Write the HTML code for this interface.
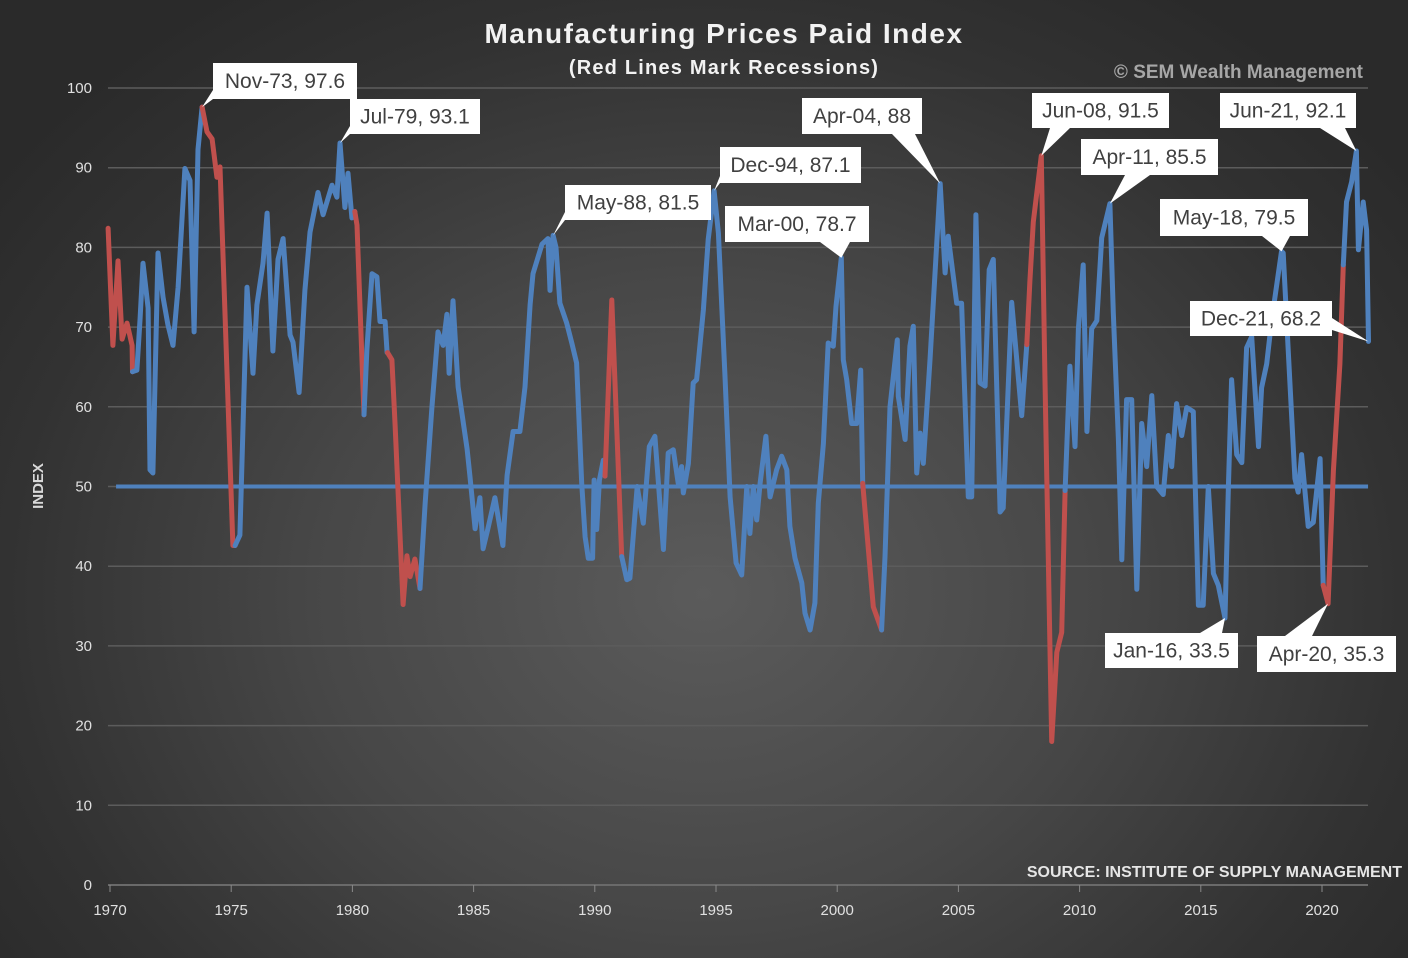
<!DOCTYPE html>
<html><head><meta charset="utf-8">
<style>
html,body{margin:0;padding:0;}
body{width:1408px;height:958px;overflow:hidden;background:radial-gradient(ellipse 62% 75% at 50% 62%,#5b5b5b 0%,#474747 45%,#323232 80%,#2a2a2a 100%);font-family:"Liberation Sans",sans-serif;}
svg{position:absolute;left:0;top:0;}
</style></head>
<body>
<svg id="chart" width="1408" height="958">
  <text x="724" y="43" text-anchor="middle" fill="#f2f2f2" font-size="28" font-weight="bold" letter-spacing="1.5">Manufacturing Prices Paid Index</text>
  <text x="724" y="74" text-anchor="middle" fill="#f2f2f2" font-size="20" font-weight="bold" letter-spacing="1.2">(Red Lines Mark Recessions)</text>
  <text x="1363" y="78" text-anchor="end" fill="#a6a6a6" font-size="19" font-weight="bold">© SEM Wealth Management</text>
  <text x="43" y="486" text-anchor="middle" fill="#d9d9d9" font-size="15" font-weight="bold" transform="rotate(-90 43 486)">INDEX</text>
  <text x="1402" y="877" text-anchor="end" fill="#e6e6e6" font-size="16" font-weight="bold">SOURCE:  INSTITUTE OF SUPPLY MANAGEMENT</text>
  <g id="grid"></g><g id="axes"></g><g id="series"></g><g id="notes"></g>
</svg>
<script>
const yTicks=[0,10,20,30,40,50,60,70,80,90,100];
const xTicks=[1970,1975,1980,1985,1990,1995,2000,2005,2010,2015,2020];
const recessions=[[1969.9,1970.92],[1973.8,1975.2],[1980.05,1980.5],[1981.45,1982.8],[1990.4,1991.15],[2001.05,2001.85],[2007.85,2009.45],[2020.05,2020.9]];
const dates=[1969.92,1970.12,1970.33,1970.5,1970.7,1970.91,1970.93,1971.11,1971.24,1971.36,1971.57,1971.65,1971.77,1971.98,1972.19,1972.39,1972.6,1972.81,1973.09,1973.3,1973.47,1973.63,1973.8,1974.0,1974.21,1974.41,1974.54,1975.07,1975.16,1975.36,1975.65,1975.9,1976.06,1976.31,1976.48,1976.72,1976.93,1977.14,1977.43,1977.55,1977.8,1978.04,1978.25,1978.58,1978.79,1979.16,1979.36,1979.49,1979.69,1979.82,1979.98,1980.1,1980.19,1980.48,1980.6,1980.81,1981.01,1981.14,1981.35,1981.43,1981.45,1981.63,1981.76,1982.09,1982.25,1982.38,1982.58,1982.79,1983.0,1983.28,1983.53,1983.74,1983.9,1983.99,1984.15,1984.36,1984.73,1984.85,1985.06,1985.26,1985.39,1985.59,1985.88,1986.21,1986.38,1986.63,1986.91,1987.12,1987.33,1987.45,1987.82,1988.07,1988.15,1988.28,1988.4,1988.56,1988.84,1989.05,1989.25,1989.46,1989.6,1989.73,1989.91,1989.97,1990.08,1990.19,1990.35,1990.42,1990.7,1991.11,1991.32,1991.45,1991.75,1992.0,1992.25,1992.48,1992.83,1993.03,1993.24,1993.44,1993.58,1993.65,1993.86,1994.06,1994.2,1994.48,1994.68,1994.92,1995.1,1995.37,1995.58,1995.83,1996.06,1996.27,1996.4,1996.54,1996.68,1996.82,1997.06,1997.23,1997.5,1997.71,1997.92,1998.05,1998.26,1998.54,1998.67,1998.88,1999.08,1999.22,1999.43,1999.63,1999.84,1999.95,2000.17,2000.25,2000.39,2000.6,2000.8,2000.97,2001.05,2001.49,2001.83,2001.97,2002.18,2002.48,2002.52,2002.8,2003.0,2003.14,2003.28,2003.42,2003.55,2003.83,2004.25,2004.45,2004.58,2004.93,2005.13,2005.41,2005.55,2005.72,2005.89,2006.1,2006.27,2006.44,2006.72,2006.85,2007.2,2007.61,2007.82,2007.95,2008.09,2008.42,2008.57,2008.85,2009.06,2009.26,2009.4,2009.6,2009.81,2009.95,2010.15,2010.3,2010.5,2010.71,2010.91,2011.25,2011.39,2011.6,2011.74,2011.94,2012.15,2012.36,2012.56,2012.77,2012.98,2013.18,2013.45,2013.66,2013.8,2014.0,2014.21,2014.42,2014.69,2014.9,2015.1,2015.31,2015.52,2015.72,2016.0,2016.14,2016.27,2016.48,2016.69,2016.89,2017.1,2017.38,2017.51,2017.72,2017.92,2018.33,2018.4,2018.61,2018.88,2019.02,2019.16,2019.43,2019.64,2019.92,2020.05,2020.25,2020.47,2020.74,2020.88,2021.01,2021.22,2021.42,2021.5,2021.7,2021.84,2021.92];
const values=[82.4,67.7,78.3,68.5,70.5,67.7,64.4,64.6,71.1,78.0,72.4,52.1,51.7,79.3,73.7,70.3,67.7,75.0,89.9,88.4,69.4,92.3,97.6,94.5,93.6,88.8,90.1,42.6,42.6,43.9,75.0,64.2,72.8,78.0,84.3,67.0,78.5,81.1,69.0,68.1,61.8,74.6,81.9,86.9,84.1,87.8,86.3,93.1,85.0,89.3,83.7,84.5,82.8,59.0,67.2,76.7,76.3,70.7,70.7,66.8,66.8,65.9,57.7,35.2,41.3,38.7,40.9,37.2,47.8,59.9,69.4,67.7,71.6,64.2,73.3,62.5,54.7,51.2,44.7,48.6,42.2,44.7,48.6,42.6,51.4,56.9,56.9,62.5,72.8,76.7,80.4,81.1,74.6,81.5,80.0,73.0,70.5,68.0,65.5,50.4,43.7,41.0,41.0,50.8,44.6,50.8,53.3,51.3,73.4,41.2,38.3,38.5,50.0,45.4,55.0,56.3,42.1,54.2,54.6,50.4,52.5,49.2,52.9,63.0,63.4,72.2,81.0,87.1,81.8,63.8,48.7,40.4,38.9,50.0,44.1,50.0,45.8,50.4,56.3,48.7,52.1,53.8,52.1,45.0,41.0,37.9,34.1,32.0,35.4,47.9,55.4,68.0,67.6,72.6,78.7,65.9,63.4,57.9,57.9,64.6,50.4,34.9,32.0,41.2,60.0,68.4,61.3,55.9,67.6,70.1,51.7,56.7,52.9,65.9,88.0,76.8,81.4,73.0,73.0,48.7,48.7,84.1,63.0,62.6,77.2,78.5,46.8,47.3,73.1,58.9,67.8,75.8,83.2,91.5,63.9,18.0,29.2,31.7,49.5,65.1,55.0,69.8,77.8,56.9,69.8,70.8,81.2,85.5,71.8,55.9,40.8,60.9,60.9,37.1,57.9,52.5,61.4,50.0,49.0,56.4,52.5,60.4,56.4,59.9,59.4,35.1,35.1,50.0,39.1,37.6,33.5,50.0,63.4,54.0,53.0,67.4,68.8,55.0,62.4,65.4,70.8,79.5,79.3,66.9,51.0,49.3,54.0,45.0,45.5,53.5,37.6,35.3,52.0,65.4,77.8,85.7,88.2,92.1,79.7,85.7,82.2,68.2];
const refLevel=[50];
const noteLabels=["Nov-73, 97.6","Jul-79, 93.1","May-88, 81.5","Dec-94, 87.1","Mar-00, 78.7","Apr-04, 88","Jun-08, 91.5","Apr-11, 85.5","Jun-21, 92.1","May-18, 79.5","Dec-21, 68.2","Jan-16, 33.5","Apr-20, 35.3"];
const noteDates=[1973.8,1979.49,1988.28,1994.92,2000.17,2004.25,2008.42,2011.25,2021.42,2018.33,2021.92,2016.0,2020.25];
const noteValues=[97.6,93.1,81.5,87.1,78.7,88,91.5,85.5,92.1,79.5,68.2,33.5,35.3];
// box layout [x,y,w,h] and pointer base [x1,y1,x2,y2]
const noteBoxes=[[213,63,144,36],[350,99,130,35],[565,185,146,35],[720,147,141,36],[725,206,144,36],[802,98,120,36],[1032,93,137,35],[1081,139,137,36],[1220,93,136,35],[1160,199,148,37],[1190,301,142,35],[1105,633,133,35],[1257,636,139,36]];
const noteBases=[[213,90,213,99],[350,126,350,134],[565,212,565,220],[720,176,720,183],[820,242,850,242],[892,134,915,134],[1050,128,1070,128],[1125,175,1150,175],[1320,128,1345,128],[1262,236,1290,236],[1332,318,1332,330],[1200,633,1222,633],[1285,636,1312,636]];

const NS="http://www.w3.org/2000/svg";
const X0=110,X1=1322,Y0=885,Y1=88;
function xs(t){return X0+(t-1970)*(X1-X0)/50;}
function ys(v){return Y0-v*(Y0-Y1)/100;}
function mk(tag,attrs,parent){const e=document.createElementNS(NS,tag);for(const k in attrs)e.setAttribute(k,attrs[k]);parent.appendChild(e);return e;}
const grid=document.getElementById('grid'),axes=document.getElementById('axes'),series=document.getElementById('series'),notes=document.getElementById('notes');
yTicks.forEach(v=>{
  const l=mk('line',{x1:108,x2:1368,y1:ys(v),y2:ys(v),stroke:v===0?'#6a6a6a':'#5c5c5c','stroke-width':v===0?2:1.5},grid);
  
  
  const t=mk('text',{x:92,y:ys(v)+5,'text-anchor':'end',fill:'#e0e0e0','font-size':15},axes);
  t.textContent=v;
  
  
});
xTicks.forEach(yr=>{
  const tk=mk('line',{x1:xs(yr),x2:xs(yr),y1:885,y2:892,stroke:'#8a8a8a','stroke-width':1},axes);
  
  
  const t=mk('text',{x:xs(yr),y:915,'text-anchor':'middle',fill:'#e0e0e0','font-size':15},axes);
  t.textContent=yr;
  
  
});
const ref=mk('line',{x1:xs(1970.25),x2:xs(2021.9),y1:ys(refLevel[0]),y2:ys(refLevel[0]),stroke:'#4f81bd','stroke-width':4},series);


function inRec(t){return recessions.some(r=>t>=r[0]&&t<=r[1]);}
// group consecutive segments by color
let cur=null,pts=[];
function flush(){if(pts.length>1){const p=mk('polyline',{points:pts.join(' '),fill:'none',stroke:cur?'#c0504d':'#4f81bd','stroke-width':5,'stroke-linejoin':'round','stroke-linecap':'round'},series);
  
  }}
for(let i=0;i<dates.length-1;i++){
  const red=inRec((dates[i]+dates[i+1])/2);
  if(red!==cur){flush();cur=red;pts=[xs(dates[i]).toFixed(1)+','+ys(values[i]).toFixed(1)];}
  pts.push(xs(dates[i+1]).toFixed(1)+','+ys(values[i+1]).toFixed(1));
}
flush();
noteLabels.forEach((lab,i)=>{
  const b=noteBoxes[i],p=noteBases[i];
  const tip=[xs(noteDates[i]),ys(noteValues[i])];
  const tri=mk('polygon',{points:`${p[0]},${p[1]} ${p[2]},${p[3]} ${tip[0]},${tip[1]}`,fill:'#ffffff'},notes);
  
  
  const r=mk('rect',{x:b[0],y:b[1],width:b[2],height:b[3],fill:'#ffffff'},notes);
  
  
  const t=mk('text',{x:b[0]+b[2]/2,y:b[1]+b[3]/2+7,'text-anchor':'middle',fill:'#404040','font-size':21},notes);
  t.textContent=lab;
  
  
});
</script>
</body></html>
